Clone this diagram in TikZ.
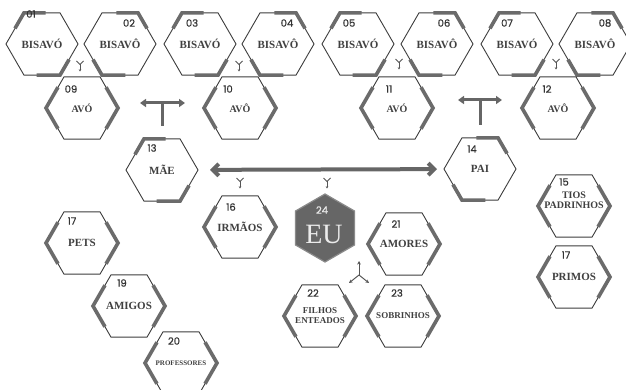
\documentclass[tikz,border=0pt]{standalone}
\usepackage{fontspec}
\setmainfont{Liberation Serif}
\newfontfamily\numfont{Poppins}[FakeBold=0.6]
\usetikzlibrary{arrows.meta,shapes.geometric}
\definecolor{thinc}{HTML}{3D3D3D}
\definecolor{thickc}{HTML}{6B6B6B}
\definecolor{txtc}{HTML}{404040}
\definecolor{numc}{HTML}{333333}
\definecolor{iconc}{HTML}{555555}
\definecolor{arrc}{HTML}{666666}
\definecolor{eufill}{HTML}{666666}
\definecolor{euborder}{HTML}{8A8A8A}
\tikzset{
  hexline/.style={draw=thinc, line width=0.9pt, line join=miter},
  hexthick/.style={draw=thickc, line width=3.6pt, line join=miter},
  hexlabel/.style={font=\bfseries\fontsize{11}{11.5}\selectfont, text=txtc, align=center, inner sep=0pt},
  numlabel/.style={font=\numfont\fontsize{10}{10}\selectfont, text=numc, inner sep=0pt},
  yiconline/.style={draw=iconc, line width=0.8pt},
  tarrow/.style={draw=arrc, line width=3pt},
  bigarrow/.style={draw=arrc, line width=4pt, {Straight Barb[length=6pt,width=12pt]}-{Straight Barb[length=6pt,width=12pt]}},
}
\newcommand{\decoA}{\draw[hexthick] (-27,-15.59) -- (-18,-31.18) -- (3.6,-31.18);
  \draw[hexthick] (-5.4,31.18) -- (18,31.18) -- (27,15.59);}
\newcommand{\decoB}{\draw[hexthick] (-3.6,-31.18) -- (18,-31.18) -- (27,-15.59);
  \draw[hexthick] (5.4,31.18) -- (-18,31.18) -- (-27,15.59);}
\newcommand{\decoC}{\draw[hexthick] (-24,-20.8) -- (-36,0) -- (-24,20.8);
  \draw[hexthick] (24,-20.8) -- (36,0) -- (24,20.8);}
% #1 name, #2 centre, #3 pattern, #4 number, #5 number offset, #6 text options, #7 text
\newcommand{\hexcell}[7]{%
  \begin{scope}[shift={(#2)}]
    \draw[hexline] (36,0) -- (18,31.18) -- (-18,31.18) -- (-36,0) -- (-18,-31.18) -- (18,-31.18) -- cycle;
    \csname deco#3\endcsname
    \node[numlabel] (#1n) at (#5) {#4};
  \end{scope}
  \node[hexlabel,#6] (#1) at (#2) {#7};}
\newcommand{\mergeicon}[2]{%
  \begin{scope}[shift={(#1,#2)}]
    \draw[yiconline] (-3.5,-5) -- (0,-1.5) -- (3.5,-5);
    \draw[yiconline,-{Stealth[length=2.2pt,width=2.6pt]}] (0,-1.5) -- (0,5.5);
  \end{scope}}
\begin{document}
\begin{tikzpicture}[x=1pt,y=-1pt]
\useasboundingbox (0,0) rectangle (626,390);
\fill[white] (0,0) rectangle (626,390);

% top row
\hexcell{b1}{42,44}{A}{01}{-11,-30}{}{BISAVÓ}
\hexcell{b2}{120,44}{B}{02}{9,-21}{}{BISAVÔ}
\hexcell{b3}{200,44}{A}{03}{-8,-21}{}{BISAVÓ}
\hexcell{b4}{278,44}{B}{04}{9,-21}{}{BISAVÔ}
\hexcell{b5}{358,44}{A}{05}{-9,-21}{}{BISAVÓ}
\hexcell{b6}{437,44}{B}{06}{7,-21}{}{BISAVÔ}
\hexcell{b7}{517,44}{A}{07}{-10,-21}{}{BISAVÓ}
\hexcell{b8}{595,44}{B}{08}{10,-21}{}{BISAVÔ}

% avós
\hexcell{a9}{82,108}{C}{09}{-11,-19}{font=\bfseries\fontsize{10}{10}\selectfont}{AVÓ}
\hexcell{a10}{240,108}{C}{10}{-12,-19}{font=\bfseries\fontsize{10}{10}\selectfont}{AVÔ}
\hexcell{a11}{397,108}{C}{11}{-8,-19}{font=\bfseries\fontsize{10}{10}\selectfont}{AVÓ}
\hexcell{a12}{558,108}{C}{12}{-11,-19}{font=\bfseries\fontsize{10}{10}\selectfont}{AVÔ}

% pais
\hexcell{mae}{162,170}{A}{13}{-10,-22}{}{MÃE}
\hexcell{pai}{480,169}{B}{14}{-8,-20}{}{PAI}

% others
\hexcell{irm}{240,227}{C}{16}{-9,-20}{}{IRMÃOS}
\hexcell{amo}{404,244}{C}{21}{-8,-20}{}{AMORES}
\hexcell{tio}{574,206}{C}{15}{-10,-24}{yshift=6pt,font=\bfseries\fontsize{10}{10}\selectfont}{TIOS\\PADRINHOS}
\hexcell{pri}{574,277}{C}{17}{-8,-22}{}{PRIMOS}
\hexcell{pet}{82,243}{C}{17}{-10,-22}{}{PETS}
\hexcell{ami}{129,306}{C}{19}{-7,-23}{}{AMIGOS}
\hexcell{pro}{181,363}{C}{20}{-7,-22}{font=\bfseries\fontsize{7}{7}\selectfont}{PROFESSORES}
\hexcell{fil}{320,316}{C}{22}{-7,-23}{font=\bfseries\fontsize{9}{10}\selectfont}{FILHOS\\ENTEADOS}
\hexcell{sob}{403,316}{C}{23}{-6,-23}{font=\bfseries\fontsize{9}{9}\selectfont}{SOBRINHOS}

% EU
\node[regular polygon, regular polygon sides=6, shape border rotate=90, minimum size=68pt,
      inner sep=0pt, outer sep=0pt, fill=eufill, draw=euborder, line width=1.2pt] (eu) at (325,228) {};
\node[numlabel, text=white!92!black] (eun) at (322,210) {24};
\node[font=\fontsize{28}{28}\selectfont, text=white!92!black, inner sep=0pt] (eut) at (324,234) {EU};

% merge icons
\mergeicon{80}{66}
\mergeicon{239}{66}
\mergeicon{399}{64}
\mergeicon{556}{64}
\mergeicon{240}{183}
\mergeicon{327}{183}

% T arrows
\draw[tarrow,{Triangle[length=6pt,width=8pt]}-{Triangle[length=6pt,width=8pt]}] (140,103) -- (185,103);
\draw[tarrow] (162,103) -- (162,126);
\draw[tarrow,{Triangle[length=6pt,width=8pt]}-{Triangle[length=6pt,width=8pt]}] (458,100) -- (502,100);
\draw[tarrow] (480,100) -- (480,125);

% big arrow mae <-> pai
\draw[bigarrow, shorten <=48pt, shorten >=43pt] (mae.center) -- (pai.center);

% three-way arrow
\begin{scope}[shift={(359,275)}]
  \draw[draw=iconc, line width=1pt, -{Stealth[length=3.5pt,width=3.5pt]}] (0,0) -- (0,-14);
  \draw[draw=iconc, line width=1pt, -{Stealth[length=3.5pt,width=3.5pt]}] (0,0) -- (-10,8);
  \draw[draw=iconc, line width=1pt, -{Stealth[length=3.5pt,width=3.5pt]}] (0,0) -- (10,8);
\end{scope}
\end{tikzpicture}
\end{document}
